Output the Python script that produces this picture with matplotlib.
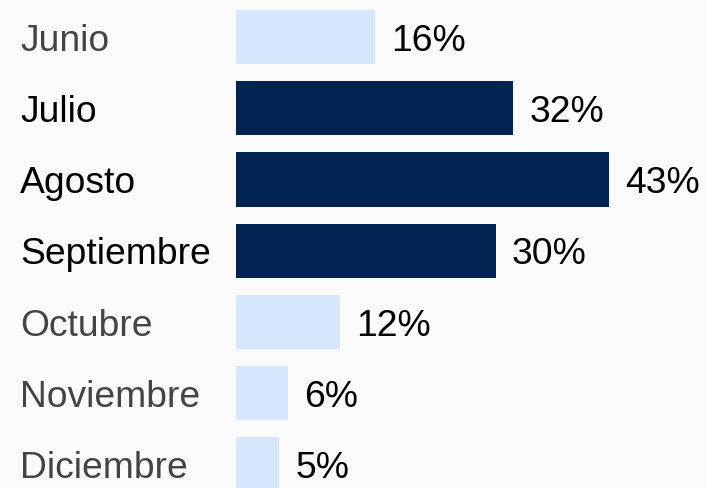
import matplotlib.pyplot as plt
import matplotlib.transforms as mtransforms

months = ['Junio', 'Julio', 'Agosto', 'Septiembre', 'Octubre', 'Noviembre', 'Diciembre']
values = [16, 32, 43, 30, 12, 6, 5]
highlight = [False, True, True, True, False, False, False]

dark = '#002352'
light = '#d6e6fc'
bg = '#fafafa'

plt.rcParams['font.family'] = ['Liberation Sans', 'DejaVu Sans']

fig = plt.figure(figsize=(7.06, 4.88), dpi=100, facecolor=bg)
ax = fig.add_axes([236 / 706, 0, 433.5 / 706, 1])
ax.set_facecolor(bg)

colors = [dark if h else light for h in highlight]
ypos = list(range(len(months)))
ax.barh(ypos, values, height=0.76, color=colors)

ax.set_xlim(0, 50)
ax.set_ylim(6.33, -0.52)
ax.axis('off')

# labels sit a few px lower than the bar centres in the original
shift = -3
trans = mtransforms.blended_transform_factory(fig.transFigure, ax.transData)
for y, m, v, h in zip(ypos, months, values, highlight):
    ax.annotate(m, xy=(20 / 706, y), xycoords=trans, xytext=(0, shift),
                textcoords='offset points', ha='left', va='center',
                fontsize=26.8, color='black' if h else '#444444')
    ax.annotate(f'{v}%', xy=(v, y), xytext=(11.5, shift), textcoords='offset points',
                ha='left', va='center', fontsize=26.8, color='black')

fig.savefig('out.png', dpi=100, facecolor=bg)
